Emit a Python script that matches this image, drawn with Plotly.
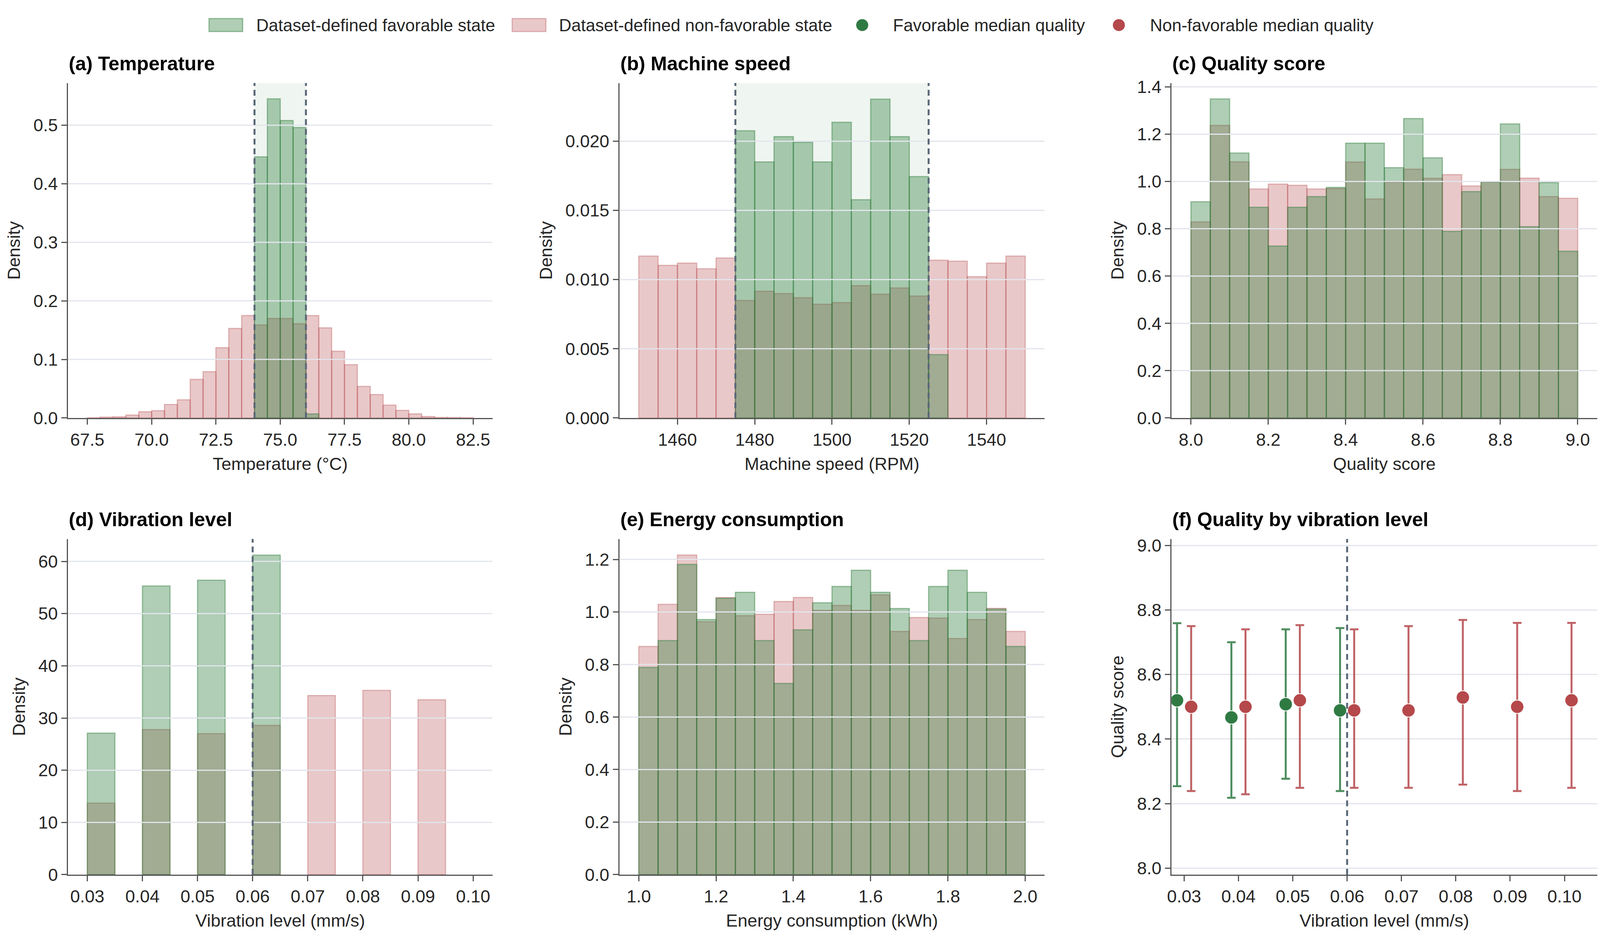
import plotly.graph_objects as go
from plotly.subplots import make_subplots

# ---------------- DATA ----------------
# (a) Temperature histogram (bin centres, width 0.5)
temp_bins_nonfav = [67.75, 68.25, 68.75, 69.25, 69.75, 70.25, 70.75, 71.25, 71.75, 72.25,
                    72.75, 73.25, 73.75, 74.25, 74.75, 75.25, 75.75, 76.25, 76.75, 77.25,
                    77.75, 78.25, 78.75, 79.25, 79.75, 80.25, 80.75, 81.25, 81.75, 82.25]
temp_dens_nonfav = [0.0005, 0.0015, 0.0020, 0.0050, 0.0106, 0.0125, 0.0230, 0.0310, 0.0660, 0.0790,
                    0.1200, 0.1530, 0.1750, 0.1590, 0.1700, 0.1700, 0.1610, 0.1750, 0.1540, 0.1140,
                    0.0910, 0.0540, 0.0400, 0.0220, 0.0130, 0.0070, 0.0025, 0.0010, 0.0008, 0.0004]
temp_bins_fav = [74.25, 74.75, 75.25, 75.75, 76.25]
temp_dens_fav = [0.446, 0.545, 0.508, 0.496, 0.007]
temp_range_fav = [74.0, 76.0]

# (b) Machine speed histogram (bin width 5)
speed_bins_nonfav = [1452.5, 1457.5, 1462.5, 1467.5, 1472.5, 1477.5, 1482.5, 1487.5, 1492.5, 1497.5,
                     1502.5, 1507.5, 1512.5, 1517.5, 1522.5, 1527.5, 1532.5, 1537.5, 1542.5, 1547.5]
speed_dens_nonfav = [0.01170, 0.01103, 0.01119, 0.01078, 0.01156, 0.00849, 0.00916, 0.00899, 0.00869, 0.00822,
                     0.00834, 0.00956, 0.00895, 0.00940, 0.00881, 0.01140, 0.01133, 0.01021, 0.01119, 0.01170]
speed_bins_fav = [1477.5, 1482.5, 1487.5, 1492.5, 1497.5, 1502.5, 1507.5, 1512.5, 1517.5, 1522.5, 1527.5]
speed_dens_fav = [0.02075, 0.01850, 0.02033, 0.01992, 0.01850, 0.02137, 0.01577, 0.02304, 0.02033, 0.01744, 0.00458]
speed_range_fav = [1475, 1525]

# (c) Quality score histogram (bin width 0.05)
quality_bins = [8.025, 8.075, 8.125, 8.175, 8.225, 8.275, 8.325, 8.375, 8.425, 8.475,
                8.525, 8.575, 8.625, 8.675, 8.725, 8.775, 8.825, 8.875, 8.925, 8.975]
quality_dens_fav = [0.914, 1.349, 1.120, 0.891, 0.727, 0.891, 0.936, 0.975, 1.162, 1.162,
                    1.058, 1.266, 1.100, 0.789, 0.957, 0.998, 1.243, 0.809, 0.995, 0.705]
quality_dens_nonfav = [0.829, 1.237, 1.083, 0.968, 0.989, 0.984, 0.968, 0.970, 1.082, 0.926,
                       0.998, 1.052, 1.013, 1.029, 0.981, 1.000, 1.051, 1.014, 0.936, 0.929]

# (d) Vibration level histogram (bin width 0.005)
vib_bins_fav = [0.0325, 0.0425, 0.0525, 0.0625]
vib_dens_fav = [27.1, 55.3, 56.4, 61.2]
vib_bins_nonfav = [0.0325, 0.0425, 0.0525, 0.0625, 0.0725, 0.0825, 0.0925]
vib_dens_nonfav = [13.7, 27.8, 27.0, 28.6, 34.3, 35.3, 33.5]
vib_threshold = 0.06

# (e) Energy consumption histogram (bin width 0.05)
energy_bins = [1.025, 1.075, 1.125, 1.175, 1.225, 1.275, 1.325, 1.375, 1.425, 1.475,
               1.525, 1.575, 1.625, 1.675, 1.725, 1.775, 1.825, 1.875, 1.925, 1.975]
energy_dens_nonfav = [0.869, 1.029, 1.217, 0.963, 1.055, 0.986, 0.991, 1.040, 1.055, 1.006,
                      1.025, 1.006, 1.065, 0.926, 0.979, 0.977, 0.899, 0.971, 1.014, 0.926]
energy_dens_fav = [0.789, 0.891, 1.181, 0.971, 1.052, 1.075, 0.891, 0.728, 0.932, 1.035,
                   1.097, 1.159, 1.075, 1.013, 0.891, 1.097, 1.159, 1.075, 1.011, 0.869]

# (f) Quality by vibration level (median with interval)
fav_levels = [0.03, 0.04, 0.05, 0.06]
fav_median = [8.520, 8.467, 8.508, 8.489]
fav_upper = [8.759, 8.700, 8.740, 8.744]
fav_lower = [8.254, 8.218, 8.277, 8.239]
nonfav_levels = [0.03, 0.04, 0.05, 0.06, 0.07, 0.08, 0.09, 0.10]
nonfav_median = [8.500, 8.500, 8.520, 8.489, 8.489, 8.529, 8.500, 8.520]
nonfav_upper = [8.750, 8.740, 8.753, 8.740, 8.750, 8.769, 8.760, 8.760]
nonfav_lower = [8.239, 8.229, 8.249, 8.249, 8.249, 8.259, 8.239, 8.249]

# ---------------- STYLE ----------------
W, H = 4096, 2437          # actual browser viewport
REF_W = 4357               # reference picture width (layout fractions measured on it)
FONT = "Liberation Sans"
FS = 45
LFS = 44
TFS = 50
FAV_FILL = "rgba(46,125,60,0.38)"
FAV_EDGE = "rgba(46,125,60,0.45)"
NON_FILL = "rgba(181,72,75,0.30)"
NON_EDGE = "rgba(181,72,75,0.35)"
SHADE = "rgba(46,125,60,0.08)"
DASH_COL = "#5a6878"
GRID_COL = "#e2e5ec"
AX_COL = "#555555"
TXT_COL = "#262626"
FAV_MK = "#2f7a43"
NON_MK = "#b5484b"
OFFSET = 0.0013

cols_px = [(173, 1332), (1679, 2840), (3187, 4349)]
rows_px = [(201, 1073), (1388, 2262)]

def px_x(p):
    return p / REF_W

def px_y(p):
    return 1 - p / H

fig = make_subplots(rows=2, cols=3)

def add_hist(row, col, bins, dens, width, fill, edge):
    fig.add_trace(go.Bar(x=bins, y=dens, width=width,
                         marker=dict(color=fill, line=dict(color=edge, width=3)),
                         showlegend=False, hoverinfo="x+y"), row=row, col=col)

# (a)
add_hist(1, 1, temp_bins_nonfav, temp_dens_nonfav, 0.5, NON_FILL, NON_EDGE)
add_hist(1, 1, temp_bins_fav, temp_dens_fav, 0.5, FAV_FILL, FAV_EDGE)
# (b)
add_hist(1, 2, speed_bins_nonfav, speed_dens_nonfav, 5, NON_FILL, NON_EDGE)
add_hist(1, 2, speed_bins_fav, speed_dens_fav, 5, FAV_FILL, FAV_EDGE)
# (c)
add_hist(1, 3, quality_bins, quality_dens_nonfav, 0.05, NON_FILL, NON_EDGE)
add_hist(1, 3, quality_bins, quality_dens_fav, 0.05, FAV_FILL, FAV_EDGE)
# (d)
add_hist(2, 1, vib_bins_nonfav, vib_dens_nonfav, 0.005, NON_FILL, NON_EDGE)
add_hist(2, 1, vib_bins_fav, vib_dens_fav, 0.005, FAV_FILL, FAV_EDGE)
# (e)
add_hist(2, 2, energy_bins, energy_dens_nonfav, 0.05, NON_FILL, NON_EDGE)
add_hist(2, 2, energy_bins, energy_dens_fav, 0.05, FAV_FILL, FAV_EDGE)

# (f)
fig.add_trace(go.Scatter(
    x=[v - OFFSET for v in fav_levels], y=fav_median, mode="markers",
    marker=dict(size=34, color=FAV_MK, line=dict(color="white", width=2)),
    error_y=dict(type="data", symmetric=False,
                 array=[u - m for u, m in zip(fav_upper, fav_median)],
                 arrayminus=[m - l for m, l in zip(fav_median, fav_lower)],
                 color="rgba(47,122,67,0.85)", thickness=5, width=11),
    showlegend=False), row=2, col=3)
fig.add_trace(go.Scatter(
    x=[v + OFFSET for v in nonfav_levels], y=nonfav_median, mode="markers",
    marker=dict(size=34, color=NON_MK, line=dict(color="white", width=2)),
    error_y=dict(type="data", symmetric=False,
                 array=[u - m for u, m in zip(nonfav_upper, nonfav_median)],
                 arrayminus=[m - l for m, l in zip(nonfav_median, nonfav_lower)],
                 color="rgba(181,72,75,0.85)", thickness=5, width=11),
    showlegend=False), row=2, col=3)

# ---------------- AXES ----------------
panels = [
    # (row, col, title, xlabel, ylabel, xrange, xtick0, xdtick, xfmt, yrange, ytick0, ydtick, yfmt, grid ticks)
    (1, 1, "(a) Temperature", "Temperature (°C)", "Density", [66.75, 83.25], 67.5, 2.5, ".1f",
     [0, 0.572], 0, 0.1, ".1f", [0.1, 0.2, 0.3, 0.4, 0.5]),
    (1, 2, "(b) Machine speed", "Machine speed (RPM)", "Density", [1445, 1555], 1460, 20, "d",
     [0, 0.0242], 0, 0.005, ".3f", [0.005, 0.010, 0.015, 0.020]),
    (1, 3, "(c) Quality score", "Quality score", "Density", [7.95, 9.05], 8.0, 0.2, ".1f",
     [0, 1.416], 0, 0.2, ".1f", [0.2, 0.4, 0.6, 0.8, 1.0, 1.2, 1.4]),
    (2, 1, "(d) Vibration level", "Vibration level (mm/s)", "Density", [0.0265, 0.1035], 0.03, 0.01, ".2f",
     [0, 64.3], 0, 10, "d", [10, 20, 30, 40, 50, 60]),
    (2, 2, "(e) Energy consumption", "Energy consumption (kWh)", "Density", [0.95, 2.05], 1.0, 0.2, ".1f",
     [0, 1.278], 0, 0.2, ".1f", [0.2, 0.4, 0.6, 0.8, 1.0, 1.2]),
    (2, 3, "(f) Quality by vibration level", "Vibration level (mm/s)", "Quality score", [0.0277, 0.106], 0.03, 0.01, ".2f",
     [7.98, 9.02], 8.0, 0.2, ".1f", None),
]

shapes = []
annotations = []
for idx, (r, c, title, xl, yl, xr, xt0, xdt, xf, yr, yt0, ydt, yf, gticks) in enumerate(panels):
    n = idx + 1
    sfx = "" if n == 1 else str(n)
    x0p, x1p = cols_px[c - 1]
    y0p, y1p = rows_px[r - 1]
    xdom = [px_x(x0p), px_x(x1p)]
    ydom = [px_y(y1p), px_y(y0p)]
    common = dict(showline=True, linecolor=AX_COL, linewidth=3, ticks="outside",
                  ticklen=14, tickwidth=3, tickcolor=AX_COL, zeroline=False,
                  tickfont=dict(family=FONT, size=FS, color=TXT_COL), mirror=False)
    fig.layout["xaxis" + sfx].update(domain=xdom, range=xr, tick0=xt0, dtick=xdt, tickformat=xf,
                                     showgrid=False,
                                     title=dict(text=xl, font=dict(family=FONT, size=FS, color=TXT_COL), standoff=22),
                                     **common)
    fig.layout["yaxis" + sfx].update(domain=ydom, range=yr, tick0=yt0, dtick=ydt, tickformat=yf,
                                     showgrid=(gticks is None), gridcolor=GRID_COL, gridwidth=3,
                                     title=dict(text=yl, font=dict(family=FONT, size=FS, color=TXT_COL), standoff=20),
                                     **common)
    xref = "x" + sfx
    yref = "y" + sfx
    if gticks is not None:
        for g in gticks:
            shapes.append(dict(type="line", xref=xref + " domain", yref=yref, x0=0, x1=1, y0=g, y1=g,
                               line=dict(color=GRID_COL, width=3), layer="above"))
    annotations.append(dict(text="<b>" + title + "</b>", xref="paper", yref="paper",
                            x=xdom[0], y=ydom[1], xanchor="left", yanchor="bottom", yshift=20,
                            showarrow=False, font=dict(family=FONT, size=TFS, color="black")))

# favourable ranges: shading + dashed bounds
for sfx, rng in [("", temp_range_fav), ("2", speed_range_fav)]:
    shapes.append(dict(type="rect", xref="x" + sfx, yref="y" + sfx + " domain",
                       x0=rng[0], x1=rng[1], y0=0, y1=1, fillcolor=SHADE, line=dict(width=0), layer="below"))
    for v in rng:
        shapes.append(dict(type="line", xref="x" + sfx, yref="y" + sfx + " domain", x0=v, x1=v, y0=0, y1=1,
                           line=dict(color=DASH_COL, width=5, dash="15px,10px"), layer="above"))
for sfx in ["4", "6"]:
    shapes.append(dict(type="line", xref="x" + sfx, yref="y" + sfx + " domain",
                       x0=vib_threshold, x1=vib_threshold, y0=0, y1=1,
                       line=dict(color=DASH_COL, width=5, dash="15px,10px"), layer="above"))

# ---------------- LEGEND (top centre) ----------------
leg_c = 50
leg_y = px_y(leg_c)
shapes.append(dict(type="rect", xref="paper", yref="paper", x0=px_x(558), x1=px_x(650),
                   y0=px_y(leg_c + 17), y1=px_y(leg_c - 17), fillcolor=FAV_FILL, line=dict(color=FAV_EDGE, width=3)))
shapes.append(dict(type="rect", xref="paper", yref="paper", x0=px_x(1386), x1=px_x(1478),
                   y0=px_y(leg_c + 17), y1=px_y(leg_c - 17), fillcolor=NON_FILL, line=dict(color=NON_EDGE, width=3)))
for cx, col in [(2342, FAV_MK), (3043, NON_MK)]:
    shapes.append(dict(type="circle", xref="paper", yref="paper",
                       x0=cx / REF_W - 16.5 / W, x1=cx / REF_W + 16.5 / W,
                       y0=px_y(leg_c + 16.5), y1=px_y(leg_c - 16.5),
                       fillcolor=col, line=dict(color="white", width=2)))
for xp, txt in [(685, "Dataset-defined favorable state"), (1512, "Dataset-defined non-favorable state"),
                (2424, "Favorable median quality"), (3126, "Non-favorable median quality")]:
    annotations.append(dict(text=txt, xref="paper", yref="paper", x=px_x(xp), y=leg_y,
                            xanchor="left", yanchor="middle", showarrow=False,
                            font=dict(family=FONT, size=LFS, color=TXT_COL)))

fig.update_layout(width=W, height=H, autosize=False, barmode="overlay",
                  margin=dict(l=0, r=0, t=0, b=0),
                  plot_bgcolor="white", paper_bgcolor="white",
                  font=dict(family=FONT, size=FS, color=TXT_COL),
                  shapes=shapes, annotations=annotations, showlegend=False)

fig.write_html("out.html", config={"displayModeBar": False},
               post_script="document.body.style.margin='0';")
